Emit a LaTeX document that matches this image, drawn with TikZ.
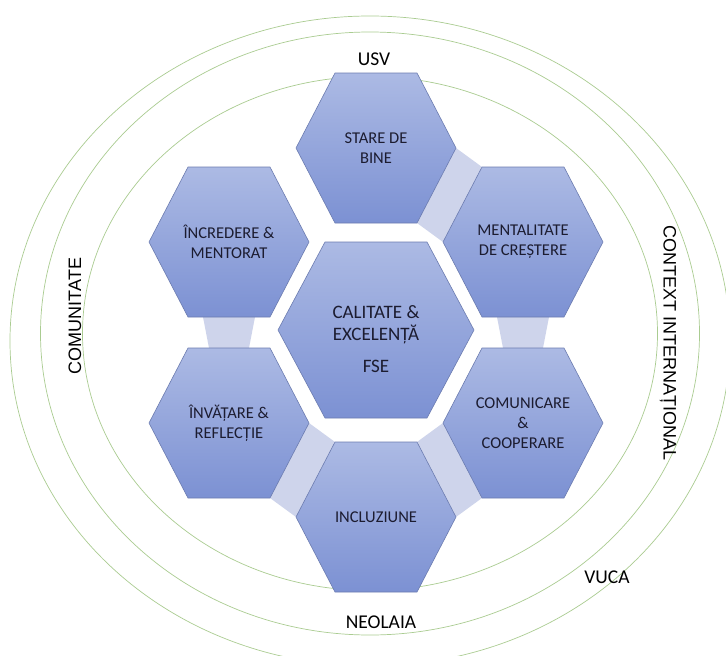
\documentclass[tikz,border=0pt]{standalone}
\usepackage{fontspec}
\setmainfont{Carlito}
\newfontfamily\arialfont{Liberation Sans}
\usetikzlibrary{calc}

\definecolor{ringgreen}{RGB}{170,204,145}
\definecolor{hextop}{RGB}{172,186,228}
\definecolor{hexbottom}{RGB}{124,145,211}
\definecolor{hexline}{RGB}{108,124,176}
\definecolor{linkfill}{RGB}{206,212,235}
\definecolor{hextext}{RGB}{28,28,48}

\begin{document}
\begin{tikzpicture}[x=1pt, y=-1pt,
    ring/.style={draw=ringgreen, line width=0.7pt},
    hexa/.style={draw=hexline, line width=0.6pt, top color=hextop, bottom color=hexbottom},
    link/.style={fill=linkfill, draw=none},
    hextxt/.style={align=center, text=hextext, inner sep=0pt, font=\fontsize{16.5}{20}\selectfont},
    lbl/.style={inner sep=0pt, font=\fontsize{19.5}{23}\selectfont},
    sidelbl/.style={inner sep=0pt, font=\arialfont\fontsize{18}{21}\selectfont}]

    \useasboundingbox (0,0) rectangle (726,656);
    \fill[white] (0,0) rectangle (726,656);
    \clip (0,0) rectangle (726,656);

    % Rings
    \draw[ring] (370,341) ellipse [x radius=360, y radius=325];
    \draw[ring] (370,333.5) ellipse [x radius=329.5, y radius=301.5];
    \draw[ring] (370,333.5) ellipse [x radius=287.5, y radius=257];

    % Hexagon centres
    \coordinate (pCenter) at (376,330);
    \coordinate (pBine) at (376,148);
    \coordinate (pCrest) at (523,242);
    \coordinate (pComun) at (523,423);
    \coordinate (pIncl) at (376,517);
    \coordinate (pInv) at (229,423);
    \coordinate (pIncr) at (229,242);

    % Links between neighbouring hexagons
    \fill[link] ($(pBine)+(80,0)$) -- ($(pBine)+(41,75)$) -- ($(pCrest)+(-80,0)$) -- ($(pCrest)+(-41,-75)$) -- cycle;
    \fill[link] ($(pCrest)+(-26,75)$) -- ($(pCrest)+(26,75)$) -- ($(pComun)+(20,-75)$) -- ($(pComun)+(-20,-75)$) -- cycle;
    \fill[link] ($(pComun)+(-80,0)$) -- ($(pComun)+(-41,75)$) -- ($(pIncl)+(80,0)$) -- ($(pIncl)+(41,-75)$) -- cycle;
    \fill[link] ($(pInv)+(80,0)$) -- ($(pInv)+(41,75)$) -- ($(pIncl)+(-80,0)$) -- ($(pIncl)+(-41,-75)$) -- cycle;
    \fill[link] ($(pIncr)+(-26,75)$) -- ($(pIncr)+(26,75)$) -- ($(pInv)+(20,-75)$) -- ($(pInv)+(-20,-75)$) -- cycle;

    % Hexagons
    \path[hexa, shift={(pCenter)}] (-98,0) -- (-51,-88) -- (51,-88) -- (98,0) -- (51,88) -- (-51,88) -- cycle;
    \path[hexa, shift={(pBine)}] (-80,0) -- (-41,-75) -- (41,-75) -- (80,0) -- (41,75) -- (-41,75) -- cycle;
    \path[hexa, shift={(pCrest)}] (-80,0) -- (-41,-75) -- (41,-75) -- (80,0) -- (41,75) -- (-41,75) -- cycle;
    \path[hexa, shift={(pComun)}] (-80,0) -- (-41,-75) -- (41,-75) -- (80,0) -- (41,75) -- (-41,75) -- cycle;
    \path[hexa, shift={(pIncl)}] (-80,0) -- (-41,-75) -- (41,-75) -- (80,0) -- (41,75) -- (-41,75) -- cycle;
    \path[hexa, shift={(pInv)}] (-80,0) -- (-41,-75) -- (41,-75) -- (80,0) -- (41,75) -- (-41,75) -- cycle;
    \path[hexa, shift={(pIncr)}] (-80,0) -- (-41,-75) -- (41,-75) -- (80,0) -- (41,75) -- (-41,75) -- cycle;

    % Hexagon texts
    \node[hextxt, font=\fontsize{19}{22}\selectfont] (calit) at ($(pCenter)+(0,9)$) {CALITATE \&\\EXCELENȚĂ\\[10pt]FSE};
    \node[hextxt] (bine) at (pBine) {STARE DE\\BINE};
    \node[hextxt] (crest) at (pCrest) {MENTALITATE\\DE CREȘTERE};
    \node[hextxt] (comun) at (pComun) {COMUNICARE\\\&\\COOPERARE};
    \node[hextxt] (incl) at (pIncl) {INCLUZIUNE};
    \node[hextxt] (inv) at (pInv) {ÎNVĂȚARE \&\\REFLECȚIE};
    \node[hextxt] (incr) at (pIncr) {ÎNCREDERE \&\\MENTORAT};

    % Ring labels
    \node[lbl] (usv) at (374,59) {USV};
    \node[lbl] (neolaia) at (381,622) {NEOLAIA};
    \node[lbl] (vuca) at (607,577) {VUCA};
    \node[sidelbl, rotate=90] (comunit) at (75,316) {COMUNITATE};
    \node[sidelbl, rotate=-90] (context) at (668,343) {CONTEXT INTERNAȚIONAL};
\end{tikzpicture}
\end{document}
